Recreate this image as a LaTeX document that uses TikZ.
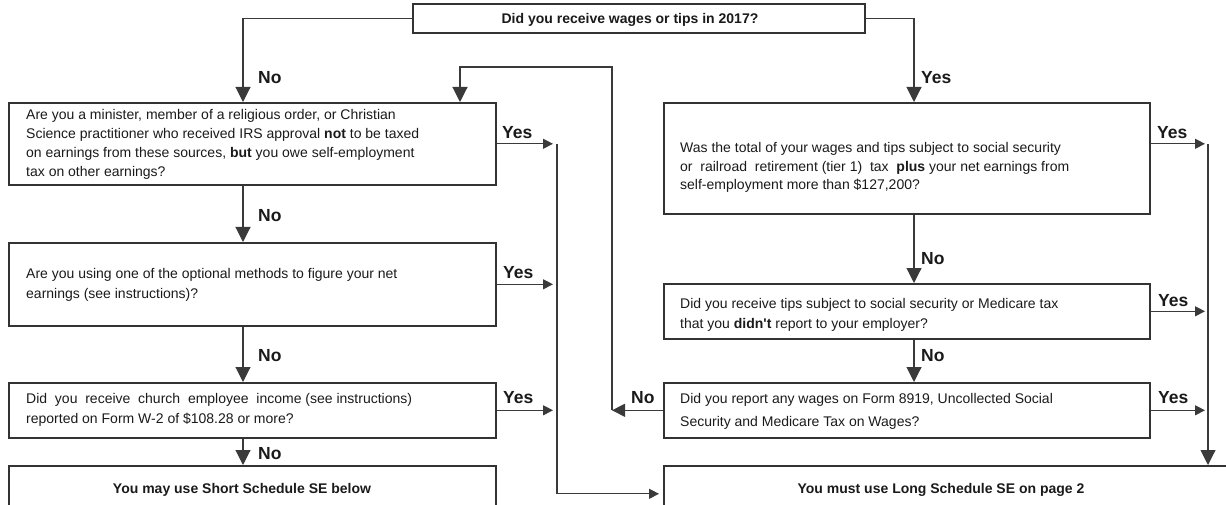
\documentclass[tikz,border=0pt]{standalone}
\usepackage{fontspec}
\setmainfont{Liberation Sans}
\usetikzlibrary{arrows.meta}
\definecolor{ink}{HTML}{1A1A1A}
\definecolor{edge}{HTML}{333333}
\definecolor{wire}{HTML}{3A3A3A}
\tikzset{
  qbox/.style={draw=edge, line width=1.6pt, inner sep=0pt, anchor=north west},
  txtline/.style={inner sep=0pt, anchor=west, text height=10pt, text depth=0pt,
    font=\fontsize{14}{17}\selectfont, text=ink},
  hdr/.style={inner sep=0pt, text height=10pt, text depth=0pt,
    font=\fontsize{14}{17}\selectfont\bfseries, text=ink},
  lbl/.style={inner sep=0pt, anchor=west, text height=12.5pt, text depth=0pt,
    font=\fontsize{17.5}{20}\selectfont\bfseries, text=ink},
  conn/.style={draw=wire, line width=1.1pt},
  bigtip/.style={-{Triangle[length=15pt,width=15pt]}},
  smalltip/.style={-{Triangle[length=10pt,width=10pt]}},
}
\begin{document}
\begin{tikzpicture}[x=1pt,y=-1pt]
\useasboundingbox (0,0) rectangle (1226,505);
\clip (0,0) rectangle (1226,505);

% helper coordinates
\coordinate (L) at (243,0);
\coordinate (R) at (914,0);
\coordinate (V) at (557,0);
\coordinate (W) at (612,0);
\coordinate (E) at (1208,0);
\coordinate (A) at (460,0);
\coordinate (lp) at (612,67);

% boxes
\node[qbox, minimum width=452pt, minimum height=29pt] (q0) at (412,3) {};
\node[qbox, minimum width=487pt, minimum height=82pt] (b1) at (8,102) {};
\node[qbox, minimum width=487pt, minimum height=83pt] (b2) at (8,242) {};
\node[qbox, minimum width=487pt, minimum height=55pt] (b3) at (8,382) {};
\node[qbox, minimum width=487pt, minimum height=56pt] (b4) at (8,465) {};
\node[qbox, minimum width=486pt, minimum height=111pt] (r1) at (663,102) {};
\node[qbox, minimum width=486pt, minimum height=55pt] (r2) at (663,283) {};
\node[qbox, minimum width=486pt, minimum height=55pt] (r3) at (663,382) {};
\node[qbox, minimum width=577pt, minimum height=56pt] (lg) at (663,465) {};

% texts
\node[hdr] (q0t) at (630,19) {Did you receive wages or tips in 2017?};
\node[txtline] (t1a) at (26,115) {Are you a minister, member of a religious order, or Christian};
\node[txtline] (t1b) at (26,134) {Science practitioner who received IRS approval \textbf{not} to be taxed};
\node[txtline] (t1c) at (26,153) {on earnings from these sources, \textbf{but} you owe self-employment};
\node[txtline] (t1d) at (26,172) {tax on other earnings?};
\node[txtline] (t2a) at (26,273) {Are you using one of the optional methods to figure your net};
\node[txtline] (t2b) at (26,293) {earnings (see instructions)?};
\node[txtline] (t3a) at (26,398) {Did~ you~ receive~ church~ employee~ income (see instructions)};
\node[txtline] (t3b) at (26,418) {reported on Form W-2 of \$108.28 or more?};
\node[hdr] (t4) at (242,488) {You may use Short Schedule SE below};
\node[txtline] (s1a) at (680,148) {Was the total of your wages and tips subject to social security};
\node[txtline] (s1b) at (680,167) {or~ railroad~ retirement (tier 1)~ tax~ \textbf{plus} your net earnings from};
\node[txtline] (s1c) at (680,185) {self-employment more than \$127,200?};
\node[txtline] (s2a) at (680,303) {Did you receive tips subject to social security or Medicare tax};
\node[txtline] (s2b) at (680,323) {that you \textbf{didn\textquotesingle t} report to your employer?};
\node[txtline] (s3a) at (680,398) {Did you report any wages on Form 8919, Uncollected Social};
\node[txtline] (s3b) at (680,421) {Security and Medicare Tax on Wages?};
\node[hdr] (lgt) at (941,488) {You must use Long Schedule SE on page 2};

% labels
\node[lbl] (n1) at (258,77) {No};
\node[lbl] (n2) at (258,215) {No};
\node[lbl] (n3) at (258,355) {No};
\node[lbl] (n4) at (258,453) {No};
\node[lbl] (y0) at (921,77) {Yes};
\node[lbl] (n5) at (921,258) {No};
\node[lbl] (n6) at (921,355) {No};
\node[lbl] (y1) at (502,132) {Yes};
\node[lbl] (y2) at (503,272) {Yes};
\node[lbl] (y3) at (503,397) {Yes};
\node[lbl] (y4) at (1157,132) {Yes};
\node[lbl] (y5) at (1158,300) {Yes};
\node[lbl] (y6) at (1158,397) {Yes};
\node[lbl] (n7) at (631,397) {No};

% left trunk
\draw[conn, bigtip] (q0.west) -| (L |- b1.north);
\draw[conn, bigtip] (L |- b1.south) -- (L |- b2.north);
\draw[conn, bigtip] (L |- b2.south) -- (L |- b3.north);
\draw[conn, bigtip] (L |- b3.south) -- (L |- b4.north);
% right trunk
\draw[conn, bigtip] (q0.east) -| (R |- r1.north);
\draw[conn, bigtip] (R |- r1.south) -- (R |- r2.north);
\draw[conn, bigtip] (R |- r2.south) -- (R |- r3.north);
% left yes arrows
\draw[conn, smalltip, shorten >=4pt] (b1.east) -- (V |- b1.east);
\draw[conn, smalltip, shorten >=4pt] (b2.east) -- (V |- b2.east);
\draw[conn, smalltip, shorten >=4pt] (b3.east) -- (V |- b3.east);
\draw[conn, smalltip, shorten >=4pt] (V |- b1.east) |- (lg.west);
% right yes arrows
\draw[conn, smalltip, shorten >=3pt] (r1.east |- b1.east) -- (E |- b1.east);
\draw[conn, smalltip, shorten >=3pt] (r2.east) -- (E |- r2.east);
\draw[conn, smalltip, shorten >=3pt] (r3.east) -- (E |- r3.east);
\draw[conn, bigtip] (E |- b1.east) -- (E |- lg.north);
% loop back
\draw[conn, {Triangle[length=13pt,width=13pt]}-] (W |- r3.west) -- (r3.west);
\draw[conn, bigtip] (W |- r3.west) -- (lp) -| (A |- b1.north);
\end{tikzpicture}
\end{document}
